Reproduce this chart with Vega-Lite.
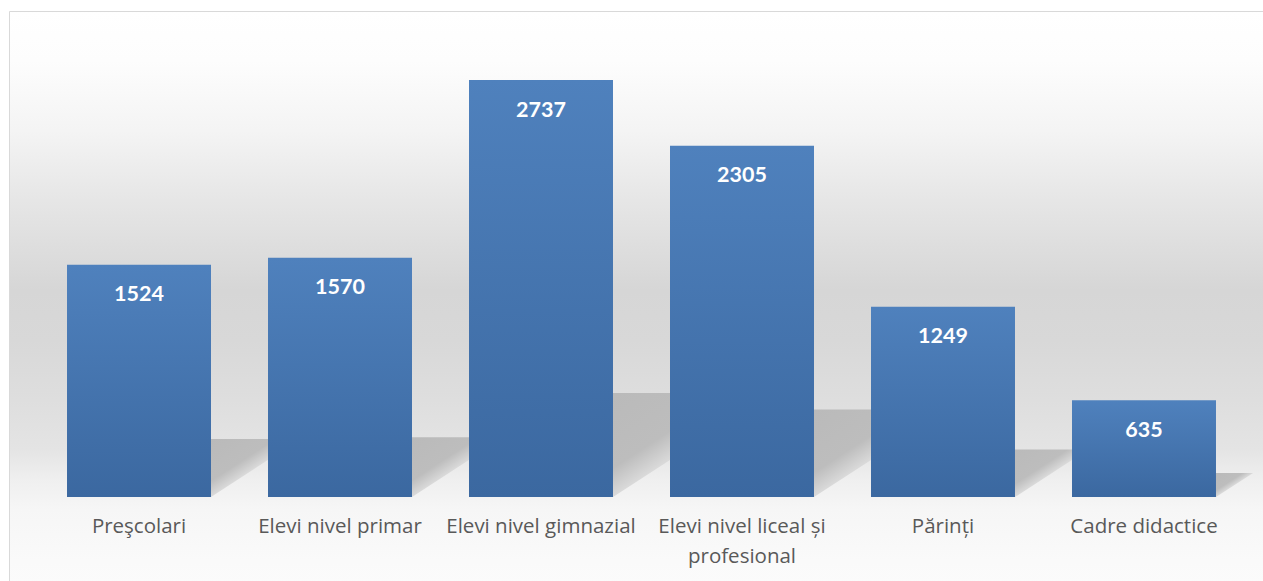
{
  "$schema": "https://vega.github.io/schema/vega-lite/v6.json",
  "width": 1265,
  "height": 600,
  "autosize": "none",
  "padding": {"left": 9, "top": 11, "right": 0, "bottom": 0},
  "background": "#ffffff",
  "config": {
    "view": {
      "stroke": "#d9d9d9",
      "strokeWidth": 1,
      "fill": {
        "gradient": "linear",
        "x1": 0, "y1": 0, "x2": 0, "y2": 1,
        "stops": [
          {"offset": 0, "color": "#ffffff"},
          {"offset": 0.082, "color": "#fdfdfd"},
          {"offset": 0.198, "color": "#f4f4f4"},
          {"offset": 0.315, "color": "#e6e6e6"},
          {"offset": 0.465, "color": "#d6d6d6"},
          {"offset": 0.548, "color": "#d8d8d8"},
          {"offset": 0.648, "color": "#dedede"},
          {"offset": 0.73, "color": "#e4e4e4"},
          {"offset": 0.78, "color": "#efefef"},
          {"offset": 0.83, "color": "#f6f6f6"},
          {"offset": 0.915, "color": "#fafafa"},
          {"offset": 1, "color": "#fcfcfc"}
        ]
      }
    }
  },
  "data": {
    "values": [
      {"cat": "Preşcolari", "value": 1524},
      {"cat": "Elevi nivel primar", "value": 1570},
      {"cat": "Elevi nivel gimnazial", "value": 2737},
      {"cat": "Elevi nivel liceal și profesional", "value": 2305},
      {"cat": "Părinți", "value": 1249},
      {"cat": "Cadre didactice", "value": 635}
    ]
  },
  "encoding": {
    "x": {
      "field": "cat",
      "type": "nominal",
      "sort": null,
      "scale": {"paddingInner": 0.2836, "paddingOuter": 0.2886},
      "axis": {
        "orient": "bottom",
        "offset": -114,
        "domain": false,
        "ticks": false,
        "title": null,
        "labelAngle": 0,
        "labelFont": "Open Sans",
        "labelFontSize": 20.5,
        "labelColor": "#595959",
        "labelPadding": 19,
        "labelBaseline": "top",
        "labelLineHeight": 30,
        "labelLimit": 0,
        "labelOverlap": false,
        "labelExpr": "datum.label == 'Elevi nivel liceal și profesional' ? ['Elevi nivel liceal și', 'profesional'] : datum.label"
      }
    }
  },
  "layer": [
    {
      "mark": {
        "type": "point",
        "shape": "M0,0L0,-1L1.54,-1Z",
        "filled": true,
        "opacity": 1,
        "strokeWidth": 0,
        "xOffset": 72,
        "fill": {
          "gradient": "linear",
          "x1": 0, "y1": 0, "x2": 1, "y2": 1,
          "stops": [
            {"offset": 0, "color": "#bababa"},
            {"offset": 0.36, "color": "#bdbdbd"},
            {"offset": 0.5, "color": "#dadada"}
          ]
        }
      },
      "encoding": {
        "y": {"datum": 0, "type": "quantitative", "scale": {"domain": [-748, 3190], "nice": false, "zero": false}, "axis": null},
        "size": {
          "field": "value",
          "type": "quantitative",
          "scale": {"type": "pow", "exponent": 2, "domain": [0, 3000], "range": [0, 52000]},
          "legend": null
        }
      }
    },
    {
      "mark": {
        "type": "bar",
        "fill": {
          "gradient": "linear",
          "x1": 0, "y1": 0, "x2": 0, "y2": 1,
          "stops": [
            {"offset": 0, "color": "#4f81bd"},
            {"offset": 1, "color": "#3b68a0"}
          ]
        }
      },
      "encoding": {
        "y": {"field": "value", "type": "quantitative", "axis": null}
      }
    },
    {
      "mark": {
        "type": "text",
        "dy": 30.5,
        "baseline": "middle",
        "font": "Lato",
        "fontWeight": "bold",
        "fontSize": 21.5,
        "fill": "#ffffff"
      },
      "encoding": {
        "y": {"field": "value", "type": "quantitative", "axis": null},
        "text": {"field": "value", "type": "quantitative", "format": "d"}
      }
    }
  ]
}
